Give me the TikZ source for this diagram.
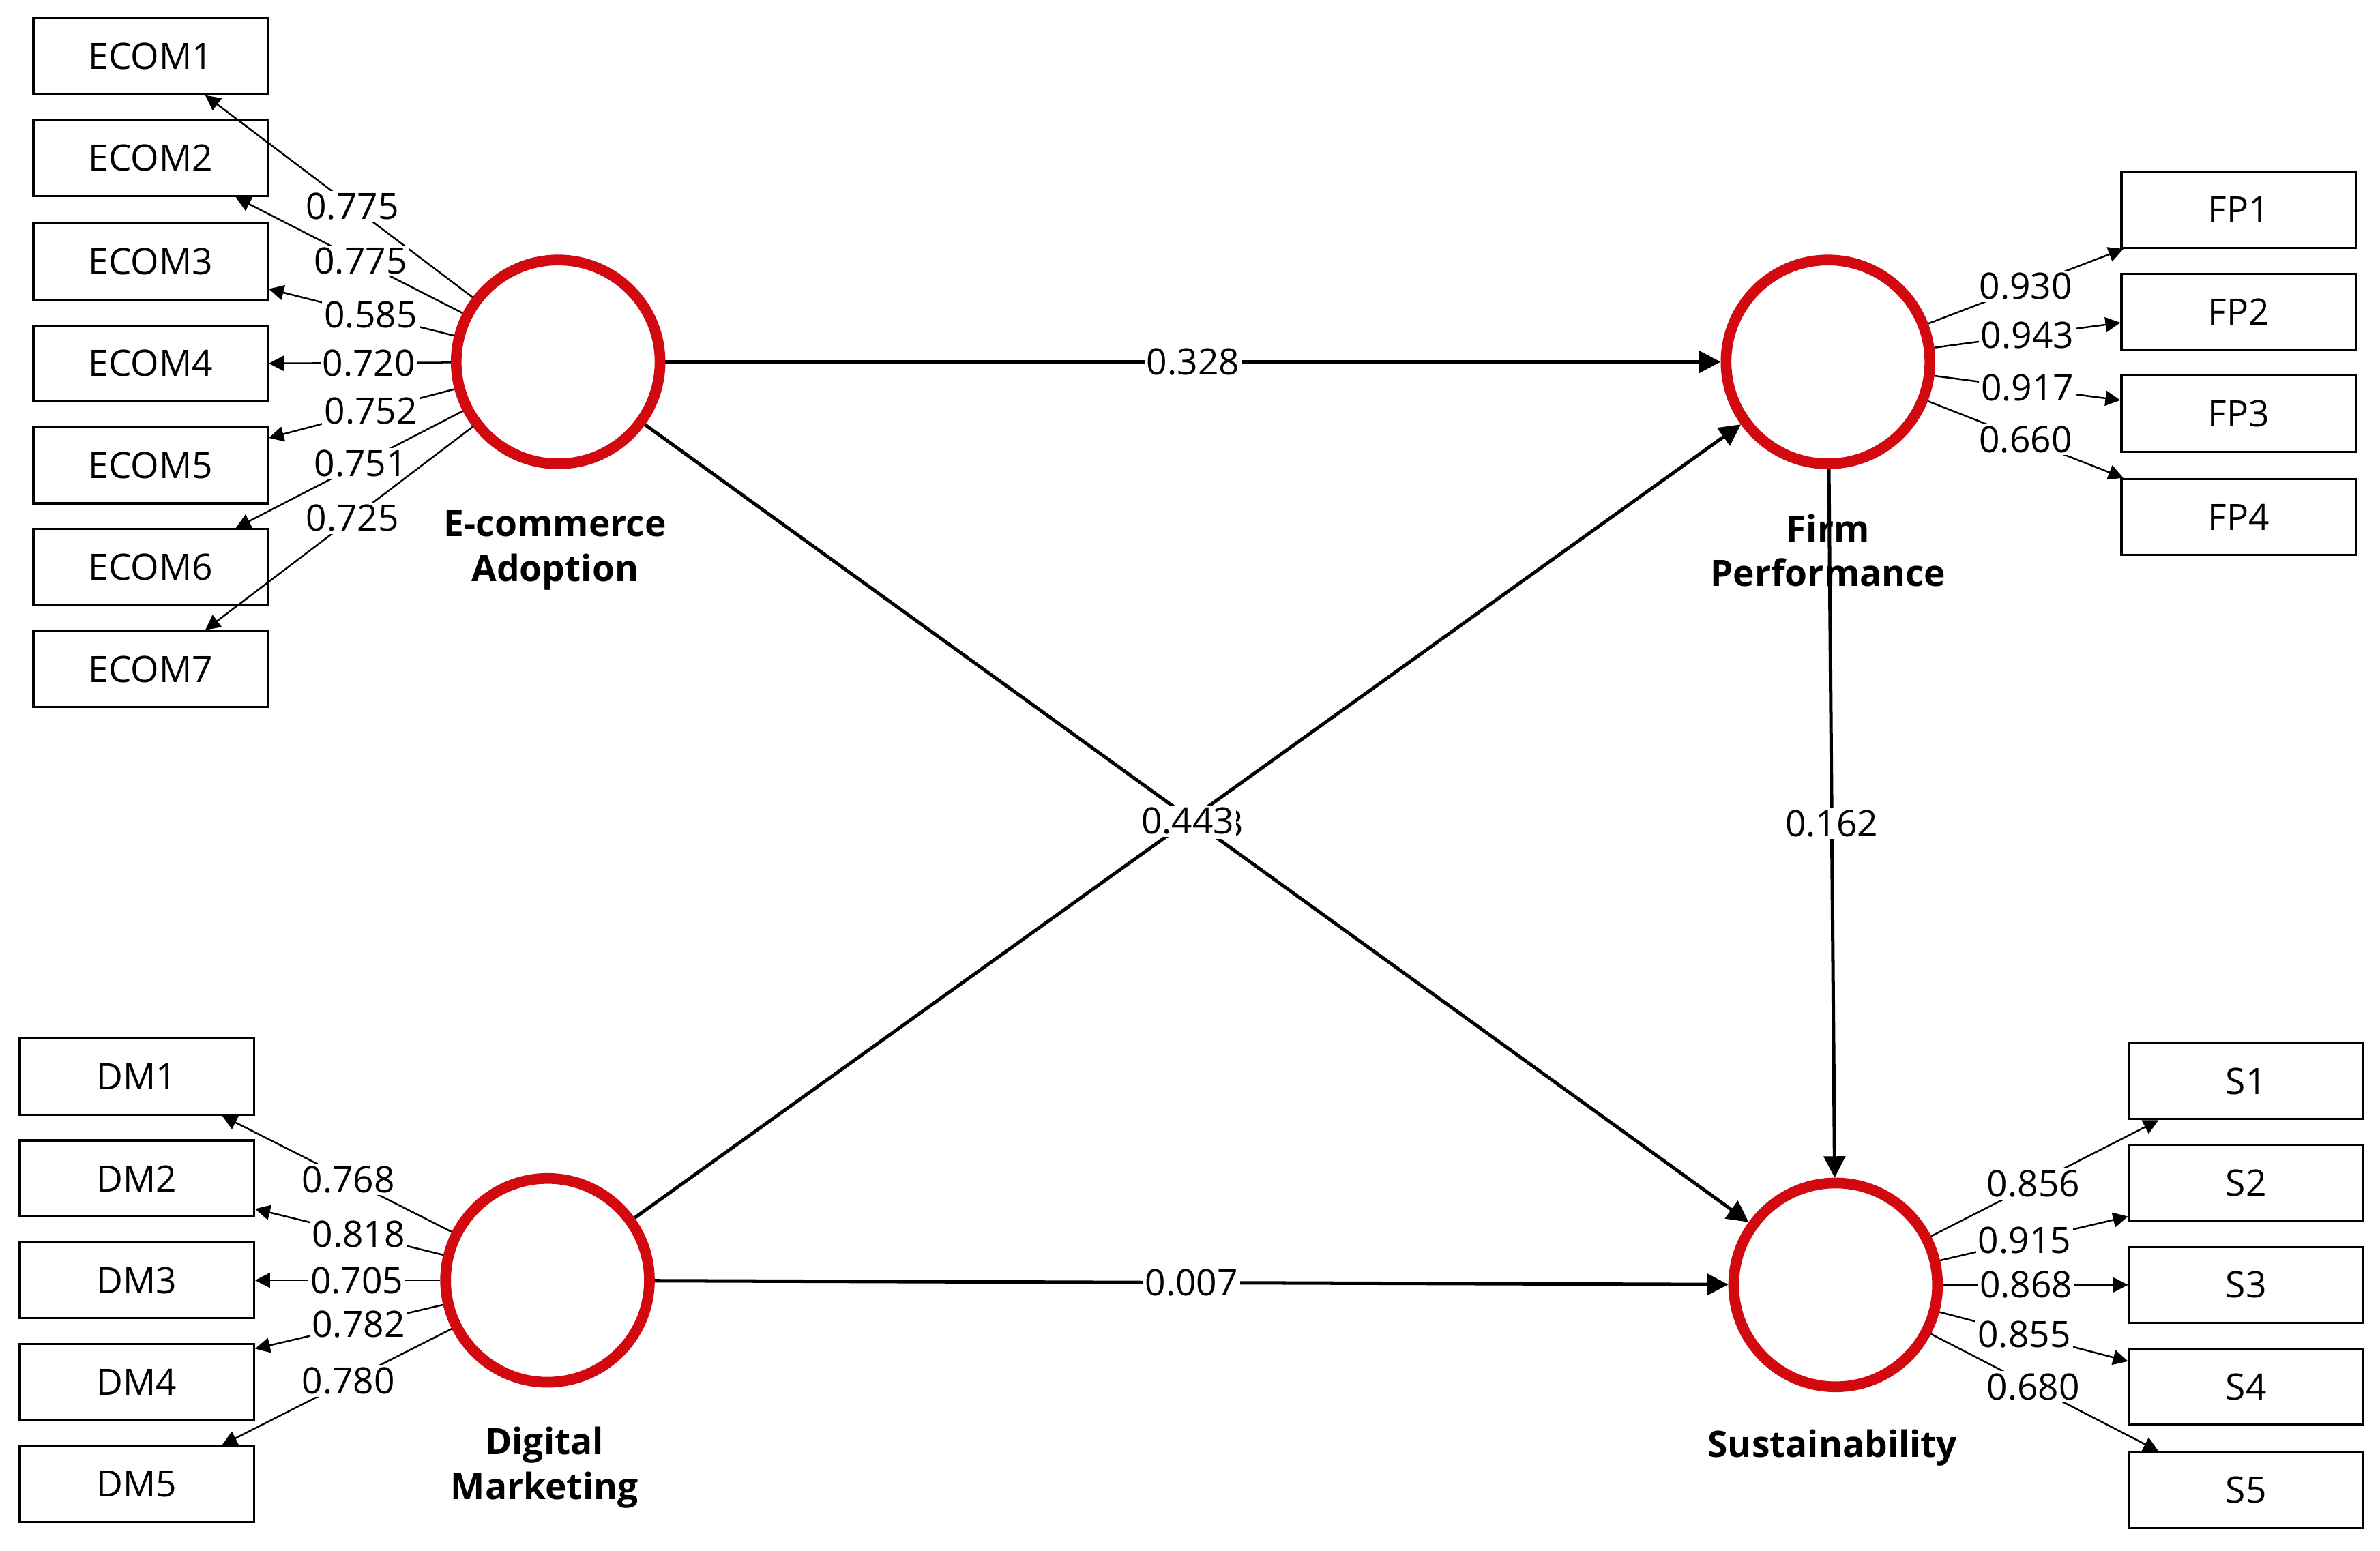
\documentclass[tikz,border=0pt]{standalone}
\usepackage{fontspec}
\setmainfont{Open Sans}
\usetikzlibrary{arrows.meta}
\definecolor{lvred}{RGB}{210,10,15}
\begin{document}
\begin{tikzpicture}[x=0.025cm,y=-0.025cm,
  ind/.style={draw,line width=1pt,minimum width=3.85cm,minimum height=1.25cm,inner sep=0pt,font=\fontsize{17}{20}\selectfont},
  lv/.style={circle,draw=lvred,line width=5pt,minimum size=3.35cm,inner sep=0pt},
  lvlab/.style={font=\bfseries\fontsize{17}{21}\selectfont,align=center},
  ld/.style={line width=0.8pt,-{Triangle[length=7pt,width=7pt]}},
  sp/.style={line width=1.6pt,-{Triangle[length=10pt,width=10pt]}},
  val/.style={fill=white,inner sep=1pt,font=\fontsize{17}{20}\selectfont}]
\useasboundingbox (0,0) rectangle (1565,1020);
\node[lv] (e) at (367,238) {};
\node[lv] (f) at (1202,238) {};
\node[lv] (d) at (360,842) {};
\node[lv] (s) at (1207,845) {};
\node[lvlab] at (365,362) {E-commerce\\Adoption};
\node[lvlab] at (1202,362) {Firm\\Performance};
\node[lvlab] at (358,965) {Digital\\Marketing};
\node[lvlab] at (1205,952) {Sustainability};
\foreach \i/\y in {1/37,2/104,3/172,4/239,5/306,6/373,7/440} \node[ind] (ecom\i) at (99,\y) {ECOM\i};
\foreach \i/\y in {1/138,2/205,3/272,4/340} \node[ind] (fp\i) at (1472,\y) {FP\i};
\foreach \i/\y in {1/708,2/775,3/842,4/909,5/976} \node[ind] (dm\i) at (90,\y) {DM\i};
\foreach \i/\y in {1/711,2/778,3/845,4/912,5/980} \node[ind] (s\i) at (1477,\y) {S\i};
% ECOM loadings
\draw[ld] (e) -- node[val,pos=0.45]{0.775} ([xshift=0.9cm]ecom1.south);
\draw[ld] (e) -- node[val,pos=0.45]{0.775} ([xshift=1.4cm]ecom2.south);
\draw[ld] (e) -- node[val,pos=0.45]{0.585} ([yshift=-0.45cm]ecom3.east);
\draw[ld] (e) -- node[val,pos=0.45]{0.720} (ecom4.east);
\draw[ld] (e) -- node[val,pos=0.45]{0.752} ([yshift=0.45cm]ecom5.east);
\draw[ld] (e) -- node[val,pos=0.45]{0.751} ([xshift=1.4cm]ecom6.north);
\draw[ld] (e) -- node[val,pos=0.45]{0.725} ([xshift=0.9cm]ecom7.north);
% FP loadings
\draw[ld] (f) -- node[val,pos=0.5]{0.930} ([xshift=0.05cm]fp1.south west);
\draw[ld] (f) -- node[val,pos=0.5]{0.943} ([yshift=-0.18cm]fp2.west);
\draw[ld] (f) -- node[val,pos=0.5]{0.917} ([yshift=0.22cm]fp3.west);
\draw[ld] (f) -- node[val,pos=0.5]{0.660} ([xshift=0.05cm]fp4.north west);
% DM loadings
\draw[ld] (d) -- node[val,pos=0.45]{0.768} ([xshift=1.4cm]dm1.south);
\draw[ld] (d) -- node[val,pos=0.45]{0.818} ([yshift=-0.5cm]dm2.east);
\draw[ld] (d) -- node[val,pos=0.45]{0.705} (dm3.east);
\draw[ld] (d) -- node[val,pos=0.45]{0.782} ([yshift=0.55cm]dm4.east);
\draw[ld] (d) -- node[val,pos=0.45]{0.780} ([xshift=1.4cm]dm5.north);
% S loadings
\draw[ld] (s) -- node[val,pos=0.45]{0.856} ([xshift=0.5cm]s1.south west);
\draw[ld] (s) -- node[val,pos=0.45]{0.915} ([yshift=-0.55cm]s2.west);
\draw[ld] (s) -- node[val,pos=0.45]{0.868} (s3.west);
\draw[ld] (s) -- node[val,pos=0.45]{0.855} ([yshift=0.42cm]s4.west);
\draw[ld] (s) -- node[val,pos=0.45]{0.680} ([xshift=0.5cm]s5.north west);
% structural
\draw[sp] (e) -- node[val]{0.328} (f);
\draw[sp] (e) -- node[val]{0.443} (s);
\draw[sp] (d) -- node[val]{0.443} (f);
\draw[sp] (f) -- node[val]{0.162} (s);
\draw[sp] (d) -- node[val]{0.007} (s);
\end{tikzpicture}
\end{document}
